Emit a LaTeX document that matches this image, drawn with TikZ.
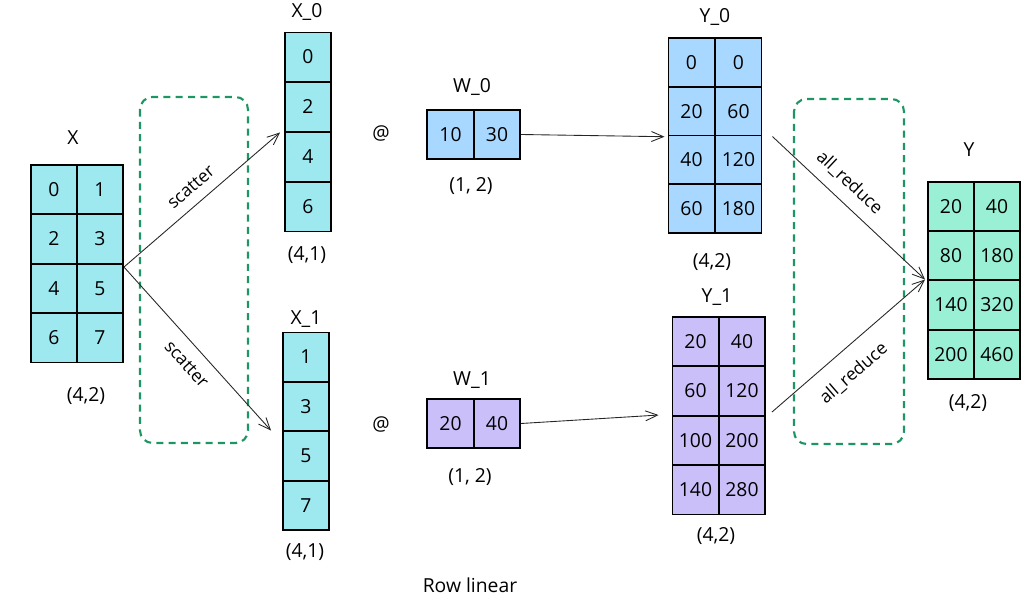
\documentclass[tikz,border=0pt]{standalone}
\usepackage{fontspec}
\setmainfont{Open Sans}
\usetikzlibrary{arrows.meta}
\definecolor{xcyan}{RGB}{158,232,240}
\definecolor{wblue}{RGB}{168,216,255}
\definecolor{wpurple}{RGB}{203,191,250}
\definecolor{ygreen}{RGB}{153,240,212}
\definecolor{dgreen}{RGB}{30,150,100}
\tikzset{
  cell/.style={draw=black, line width=1.1pt, minimum width=0.92cm, minimum height=0.98cm, inner sep=0pt, font=\fontsize{11}{13}\selectfont},
  xc/.style={cell, fill=xcyan},
  bc/.style={cell, fill=wblue},
  pc/.style={cell, fill=wpurple},
  gc/.style={cell, fill=ygreen},
  lbl/.style={font=\fontsize{11}{13}\selectfont, inner sep=1pt},
  edgelbl/.style={font=\fontsize{10}{12}\selectfont, inner sep=1pt},
  conn/.style={draw=black!85, line width=0.5pt, -{Straight Barb[length=2.4mm,width=2mm]}},
  groupbox/.style={draw=dgreen, line width=1.2pt, dash pattern=on 4pt off 3pt, rounded corners=0.25cm}
}
\begin{document}
\begin{tikzpicture}[x=0.02cm, y=-0.02cm]
\useasboundingbox (0,0) rectangle (1034,604);
% group boxes
\draw[groupbox] (140,97) rectangle (248,443);
\draw[groupbox] (794,99) rectangle (904,444);
% X
\foreach \r/\a/\b in {0/0/1,1/2/3,2/4/5,3/6/7}{
  \node[xc] (x\r a) at (54,{189.5+49.5*\r}) {\a};
  \node[xc] (x\r b) at (100,{189.5+49.5*\r}) {\b};
}
\node[lbl] (xlab) at (73,138) {X};
\node[lbl] (xshape) at (86,396) {(4,2)};
% X_0
\foreach \r/\a in {0/0,1/2,2/4,3/6}{
  \node[xc] (x0\r) at (308,{57+50*\r}) {\a};
}
\node[lbl] (x0lab) at (307,12) {X\_0};
\node[lbl] (x0shape) at (307,255) {(4,1)};
% X_1
\foreach \r/\a in {0/1,1/3,2/5,3/7}{
  \node[xc] (x1\r) at (306,{357+49.5*\r}) {\a};
}
\node[lbl] (x1lab) at (306,319) {X\_1};
\node[lbl] (x1shape) at (305,552) {(4,1)};
% @
\node[lbl] (at0) at (381,133) {@};
\node[lbl] (at1) at (381,424) {@};
% W_0
\node[bc, minimum width=0.94cm] (w0a) at (450.5,134.5) {10};
\node[bc, minimum width=0.92cm] (w0b) at (497,134.5) {30};
\node[lbl] (w0lab) at (472,87) {W\_0};
\node[lbl] (w0shape) at (471,186) {(1, 2)};
% W_1
\node[pc, minimum width=0.94cm] (w1a) at (450.5,423.5) {20};
\node[pc, minimum width=0.92cm] (w1b) at (497,423.5) {40};
\node[lbl] (w1lab) at (472,380) {W\_1};
\node[lbl] (w1shape) at (470,477) {(1, 2)};
% Y_0
\foreach \r/\a/\b in {0/0/0,1/20/60,2/40/120,3/60/180}{
  \node[bc] (y0\r a) at (691.5,{62.5+48.75*\r}) {\a};
  \node[bc] (y0\r b) at (738.5,{62.5+48.75*\r}) {\b};
}
\node[lbl] (y0lab) at (715,17) {Y\_0};
\node[lbl] (y0shape) at (712,262) {(4,2)};
% Y_1
\foreach \r/\a/\b in {0/20/40,1/60/120,2/100/200,3/140/280}{
  \node[pc] (y1\r a) at (695.5,{341.5+49.5*\r}) {\a};
  \node[pc] (y1\r b) at (742,{341.5+49.5*\r}) {\b};
}
\node[lbl] (y1lab) at (717,297) {Y\_1};
\node[lbl] (y1shape) at (716,536) {(4,2)};
% Y
\foreach \r/\a/\b in {0/20/40,1/80/180,2/140/320,3/200/460}{
  \node[gc] (y\r a) at (951,{206.5+49.25*\r}) {\a};
  \node[gc] (y\r b) at (997,{206.5+49.25*\r}) {\b};
}
\node[lbl] (ylab) at (969,150) {Y};
\node[lbl] (yshape) at (968,403) {(4,2)};
% title
\node[lbl] (title) at (470,585) {Row linear};
% connectors
\draw[conn] ([yshift=-0.08cm]x2b.north east) -- node[edgelbl, sloped, above=5pt, pos=0.5] {scatter} ([xshift=-0.08cm]x01.south west);
\draw[conn] ([yshift=-0.08cm]x2b.north east) -- node[edgelbl, sloped, below=6pt, pos=0.52] {scatter} ([xshift=-0.22cm]x12.north west);
\draw[conn] (w0b.east) -- ([xshift=-0.06cm]y01a.south west);
\draw[conn] (w1b.east) -- ([xshift=-0.26cm]y12a.north west);
\draw[conn] ([xshift=0.2cm,yshift=-0.04cm]y02b.north east) -- node[edgelbl, sloped, above=5pt, pos=0.42] {all\_reduce} ([xshift=-0.04cm]y2a.north west);
\draw[conn] ([xshift=0.12cm,yshift=0.06cm]y12b.north east) -- node[edgelbl, sloped, below=8pt, pos=0.43] {all\_reduce} ([xshift=-0.04cm]y2a.north west);
\end{tikzpicture}
\end{document}
